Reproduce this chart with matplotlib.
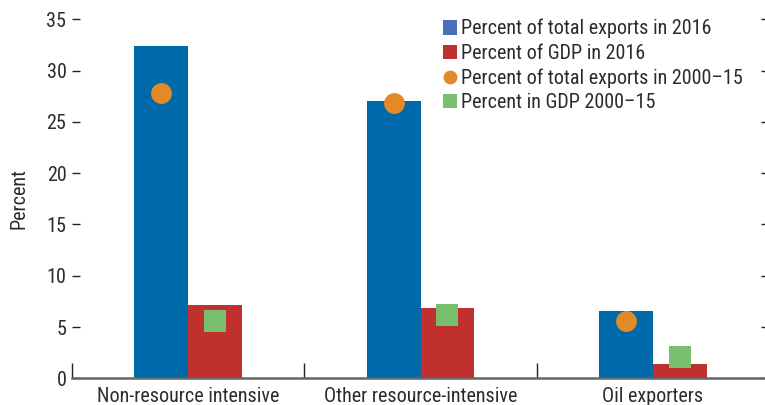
import matplotlib
matplotlib.use("Agg")
import matplotlib.pyplot as plt
from matplotlib.lines import Line2D
from matplotlib.patches import Patch
import numpy as np

categories = ["Non-resource intensive", "Other resource-intensive", "Oil exporters"]
exports_2016 = [32.4, 27.0, 6.55]
gdp_2016 = [7.15, 6.85, 1.4]
exports_2000_15 = [27.85, 26.8, 5.6]
gdp_2000_15 = [5.6, 6.15, 2.1]
yticks = [0, 5, 10, 15, 20, 25, 30, 35]
legend_labels = ["Percent of total exports in 2016", "Percent of GDP in 2016",
                 "Percent of total exports in 2000\u201315", "Percent in GDP 2000\u201315"]

BLUE = "#0069AA"
RED = "#C0302E"
ORANGE = "#E38A27"
GREEN = "#77BF6C"
LEG_BLUE = "#4A70B8"
TXT = "#2b2b2b"

plt.rcParams['font.family'] = ['Roboto Condensed', 'DejaVu Sans']

fig = plt.figure(figsize=(7.65, 4.05), dpi=100)
ax = fig.add_axes([72/765, (405-378.3)/405, (769-72)/765, (378.3-19.3)/405])

x = np.arange(len(categories))
w = 0.232
ax.bar(x - w/2, exports_2016, width=w, color=BLUE, zorder=2)
ax.bar(x + w/2, gdp_2016, width=w, color=RED, zorder=2)
ax.plot(x - w/2, exports_2000_15, linestyle='none', marker='o', markersize=15,
        color=ORANGE, markeredgewidth=0, zorder=3)
ax.plot(x + w/2, gdp_2000_15, linestyle='none', marker='s', markersize=15.5,
        color=GREEN, markeredgewidth=0, zorder=3)

ax.set_xlim(-0.5, 2.5)
ax.set_ylim(0, 35)
for s in ['top', 'left', 'right']:
    ax.spines[s].set_visible(False)
ax.spines['bottom'].set_color('#666666')
ax.spines['bottom'].set_linewidth(1.8)
ax.spines['bottom'].set_zorder(4)

ax.set_xticks(x)
ax.set_xticklabels(categories, fontsize=14.5, color=TXT)
ax.tick_params(axis='x', which='major', length=0, pad=6.5)
ax.set_xticks([-0.5, 0.5, 1.5, 2.5], minor=True)
ax.tick_params(axis='x', which='minor', direction='in', length=11, width=1, color='#222222')

ax.set_yticks(yticks)
ax.set_yticklabels([str(v) for v in yticks], fontsize=14.5, color=TXT)
ax.tick_params(axis='y', which='major', direction='in', length=6, width=1,
               color='#222222', pad=4, left=True, right=True)
ax.set_ylabel("Percent", fontsize=14.5, color=TXT, labelpad=13)

handles = [Patch(facecolor=LEG_BLUE, edgecolor='none'),
           Patch(facecolor=RED, edgecolor='none'),
           Line2D([], [], linestyle='none', marker='o', markersize=10, color=ORANGE, markeredgewidth=0),
           Patch(facecolor=GREEN, edgecolor='none')]
leg = fig.legend(handles, legend_labels, loc='upper left', bbox_to_anchor=(443/765, 1 - 19/405),
                 frameon=False, fontsize=14.5, handlelength=0.7, handleheight=0.7,
                 handletextpad=0.2, labelspacing=0.27, borderpad=0, borderaxespad=0)
for t in leg.get_texts():
    t.set_color(TXT)

fig.savefig("out.png", dpi=100)
